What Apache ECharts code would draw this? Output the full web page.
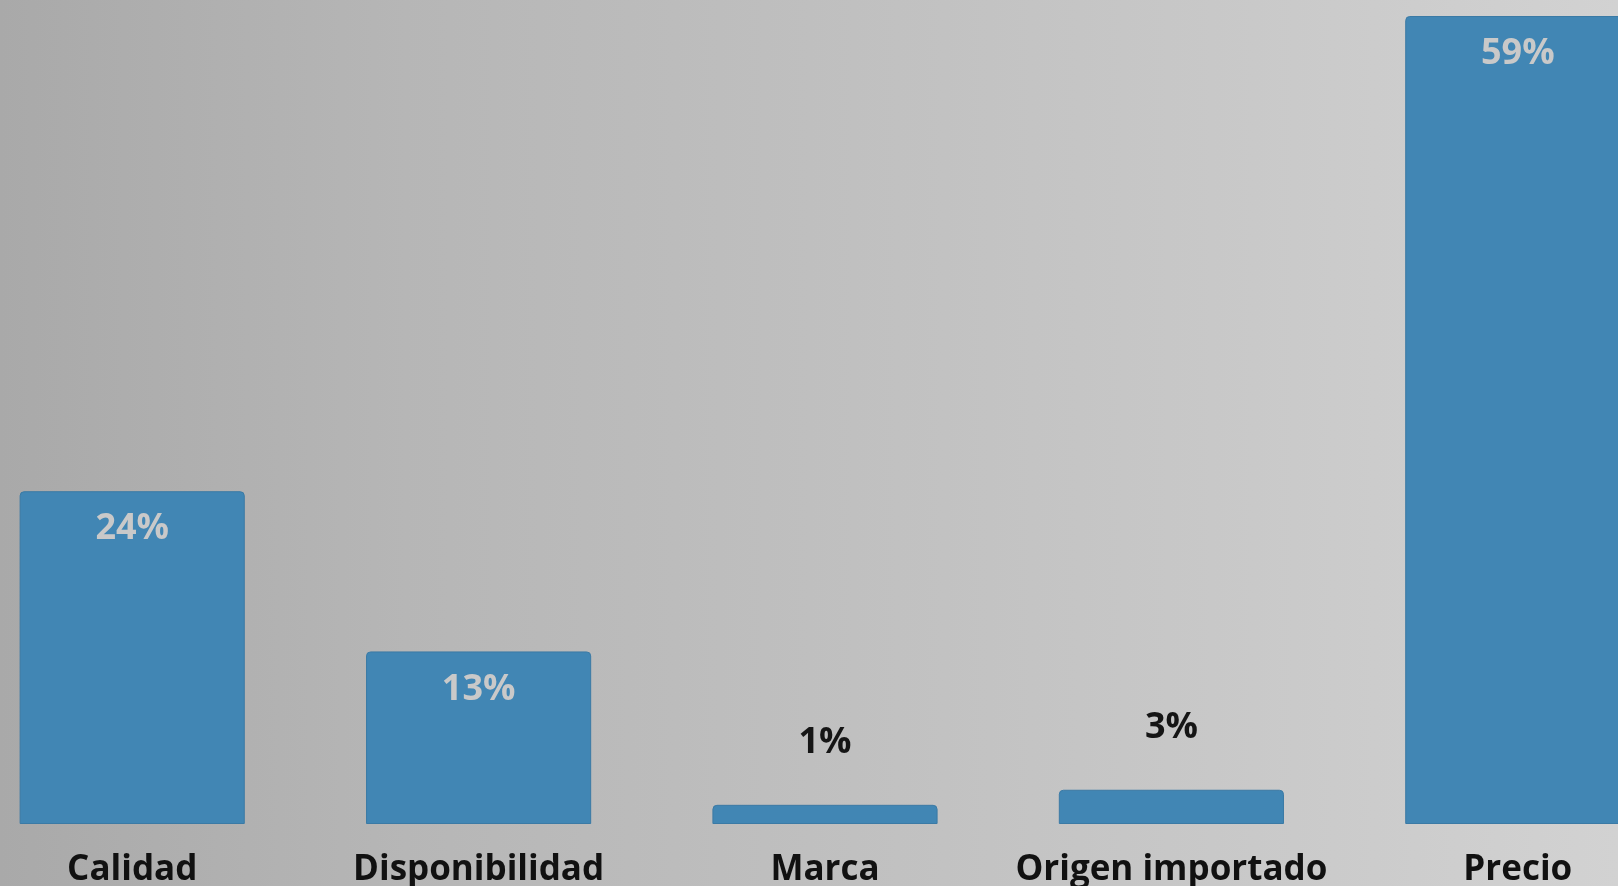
<!DOCTYPE html>
<html>
<head>
<meta charset="utf-8">
<script src="https://cdn.jsdelivr.net/npm/echarts@6/dist/echarts.min.js"></script>
<style>
html,body{margin:0;padding:0;width:1618px;height:886px;overflow:hidden;}
#c{width:1618px;height:886px;background:linear-gradient(to right,#a9a9a9 0%,#b6b6b6 25%,#bfbfbf 50%,#c8c8c8 75%,#d2d2d2 100%);}
</style>
</head>
<body>
<div id="c"></div>
<script>
const categories = ['Calidad', 'Disponibilidad', 'Marca', 'Origen importado', 'Precio'];
const values = [24.3, 12.6, 1.4, 2.5, 59];
const labels = ['24%', '13%', '1%', '3%', '59%'];

const chart = echarts.init(document.getElementById('c'), null, {renderer: 'canvas'});
const data = values.map((v, i) => {
  const inside = v > 10;
  return {
    value: v,
    label: inside ? {
      position: 'insideTop', distance: 20, color: '#c9c9c9'
    } : {
      position: 'top', distance: 44, color: '#151515'
    }
  };
});
chart.setOption({
  backgroundColor: 'transparent',
  grid: {left: -41, width: 1732, top: 16, bottom: 62, containLabel: false, outerBoundsMode: 'none'},
  xAxis: {
    type: 'category',
    data: categories,
    axisLine: {show: false},
    axisTick: {show: false},
    axisLabel: {
      interval: 0,
      margin: 29,
      fontSize: 35,
      fontWeight: 'bold',
      color: '#111111',
      fontFamily: 'Open Sans',
      hideOverlap: false
    }
  },
  yAxis: {type: 'value', min: 0, max: 59, show: false, splitLine: {show: false}},
  series: [{
    type: 'bar',
    data: data,
    barCategoryGap: '35%',
    itemStyle: {color: '#4186b4', borderRadius: [4, 4, 0, 0], borderColor: '#3b7aa5', borderWidth: 1},
    label: {
      show: true,
      fontSize: 36,
      fontWeight: 'bold',
      fontFamily: 'Open Sans',
      formatter: p => labels[p.dataIndex]
    }
  }]
});
</script>
</body>
</html>
